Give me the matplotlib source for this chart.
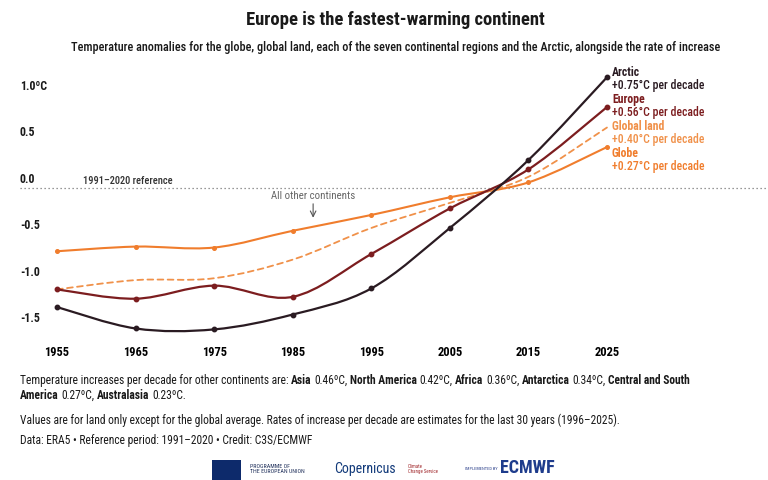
import numpy as np
import matplotlib
matplotlib.use("Agg")
import matplotlib.pyplot as plt
from matplotlib.path import Path
from matplotlib.patches import PathPatch, Rectangle

# data (anomaly vs 1991-2020, degC, decadal points)
years = [1955, 1965, 1975, 1985, 1995, 2005, 2015, 2025]
arctic = [-1.28, -1.51, -1.52, -1.36, -1.08, -0.43, 0.30, 1.19]
europe = [-1.09, -1.19, -1.05, -1.17, -0.71, -0.22, 0.20, 0.87]
global_land = [-1.09, -0.99, -0.97, -0.77, -0.43, -0.16, 0.12, 0.65]
globe = [-0.68, -0.63, -0.64, -0.46, -0.29, -0.10, 0.06, 0.44]

series_names = ["Arctic", "Europe", "Global land", "Globe"]
series_rates = ["+0.75°C per decade", "+0.56°C per decade",
                "+0.40°C per decade", "+0.27°C per decade"]
y_ticks = [1.0, 0.5, 0.0, -0.5, -1.0, -1.5]
y_tick_labels = ["1.0ºC", "0.5", "0.0", "-0.5", "-1.0", "-1.5"]

other_continents = [("Asia", "0.46ºC"), ("North America", "0.42ºC"),
                    ("Africa", "0.36ºC"), ("Antarctica", "0.34ºC"),
                    ("Central and South", None), ("America", "0.27ºC"),
                    ("Australasia", "0.23ºC.")]

C_ARCTIC = "#2a1b22"
C_EUROPE = "#7c1d1f"
C_LAND = "#f0914a"
C_GLOBE = "#f07d2d"
C_TEXT = "#1a1a1a"

plt.rcParams['font.family'] = ['Roboto Condensed', 'Roboto', 'DejaVu Sans']
plt.rcParams['text.color'] = C_TEXT


def smooth_path(xs, ys):
    """Catmull-Rom through the points, drawn as cubic bezier segments"""
    pts = np.column_stack([np.asarray(xs, float), np.asarray(ys, float)])
    verts = [pts[0]]
    codes = [Path.MOVETO]
    n = len(pts)
    for i in range(n - 1):
        p0 = pts[max(i - 1, 0)]
        p1 = pts[i]
        p2 = pts[i + 1]
        p3 = pts[min(i + 2, n - 1)]
        verts += [p1 + (p2 - p0) / 6.0, p2 - (p3 - p1) / 6.0, p2]
        codes += [Path.CURVE4] * 3
    return Path(verts, codes)


fig = plt.figure(figsize=(7.68, 4.8), dpi=100)
fig.patch.set_facecolor("white")
ax = fig.add_axes([20 / 768, 1 - 340 / 480, 748 / 768, 280 / 480])
ax.set_xlim(1950.29, 2045.5)
ax.set_ylim(-1.634, 1.376)
for s in ax.spines.values():
    s.set_visible(False)
ax.set_yticks([])
ax.set_xticks(years)
ax.set_xticklabels([str(y) for y in years], fontsize=9, fontweight="bold")
ax.tick_params(axis="x", length=0, pad=4)

# reference line
ax.axhline(0, color="#777777", lw=0.9, ls=(0, (1, 2.2)), zorder=1)
ax.text(1958.3, 0.02, "1991–2020 reference", fontsize=7.5, fontweight="medium",
        color="#333333", va="bottom", ha="left")

for v, lab in zip(y_ticks, y_tick_labels):
    ax.annotate(lab, xy=(0, v), xycoords=("axes fraction", "data"),
                xytext=(0, 1.5), textcoords="offset points",
                fontsize=8.6, fontweight="bold", va="bottom", ha="left")

# series
styles = [
    (arctic, C_ARCTIC, "-", 1.6, 3.2),
    (europe, C_EUROPE, "-", 1.6, 3.2),
    (global_land, C_LAND, (0, (3.2, 2.4)), 1.3, 0),
    (globe, C_GLOBE, "-", 1.5, 2.6),
]
for vals, col, ls, lw, ms in styles[::-1]:
    ax.add_patch(PathPatch(smooth_path(years, vals), facecolor="none",
                           edgecolor=col, lw=lw, ls=ls, capstyle="round", zorder=3))
    if ms:
        ax.plot(years, vals, ls="none", marker="o", ms=ms, color=col, zorder=4)

# right-hand labels
label_cols = [C_ARCTIC, C_EUROPE, C_LAND, C_GLOBE]
top_px = 73
for i, (name, rate, col) in enumerate(zip(series_names, series_rates, label_cols)):
    y_name = 1 - (top_px + i * 26.8) / 480
    y_rate = 1 - (top_px + 13 + i * 26.8) / 480
    fig.text(612 / 768, y_name, name, fontsize=8.5, fontweight="bold",
             color=col, va="center", ha="left")
    fig.text(612 / 768, y_rate, rate, fontsize=8.5, fontweight="medium",
             color=col, va="center", ha="left")

# annotation for other continents
ax.annotate("", xy=(1987.6, -0.32), xytext=(1987.6, -0.17),
            arrowprops=dict(arrowstyle="->", color="#555555", lw=0.8,
                            shrinkA=0, shrinkB=0))
ax.text(1987.6, -0.09, "All other continents", fontsize=7.8, color="#666666",
        ha="center", va="center")

# titles
fig.text(395 / 768, 1 - 20 / 480, "Europe is the fastest-warming continent",
         fontsize=13.4, fontweight="bold", ha="center", va="center")
fig.text(395.5 / 768, 1 - 47 / 480,
         "Temperature anomalies for the globe, global land, each of the seven "
         "continental regions and the Arctic, alongside the rate of increase",
         fontsize=8.8, fontweight="medium", ha="center", va="center")


# footnote with mixed bold / regular runs
def chain(pieces, x_px, y_px, size=8.3):
    prev = None
    for txt, bold in pieces:
        w = "bold" if bold else "normal"
        if prev is None:
            prev = fig.text(x_px / 768, 1 - y_px / 480, txt, fontsize=size,
                            fontweight=w, va="baseline", ha="left")
        else:
            gap = 0 if txt[0] in ",." else 1.9
            prev = ax.annotate(txt, xy=(1, 0), xycoords=prev,
                               xytext=(gap, 0), textcoords="offset points",
                               fontsize=size, fontweight=w, va="bottom",
                               ha="left", annotation_clip=False)


line1 = [("Temperature increases per decade for other continents are:", False)]
line2 = []
target = line1
for name, val in other_continents:
    if name == "America":
        target = line2
    target.append((name, True))
    if val is not None:
        target.append((val + ("" if val.endswith(".") else ","), False))
chain(line1, 20, 384)
chain(line2, 20, 399)

fig.text(20 / 768, 1 - 424 / 480,
         "Values are for land only except for the global average. Rates of increase "
         "per decade are estimates for the last 30 years (1996–2025).",
         fontsize=8.3, va="baseline", ha="left")
fig.text(20 / 768, 1 - 444 / 480,
         "Data: ERA5 • Reference period: 1991–2020 • Credit: C3S/ECMWF",
         fontsize=8.3, va="baseline", ha="left")

# logo strip
fig.patches.append(Rectangle((212 / 768, 0), 29 / 768, 20 / 480,
                             transform=fig.transFigure, facecolor="#0d2a6b",
                             edgecolor="none"))
fig.text(250 / 768, 1 - 469 / 480, "PROGRAMME OF\nTHE EUROPEAN UNION",
         fontsize=4.2, color="#1f2f5a", va="center", ha="left", linespacing=1.1)
fig.text(334 / 768, 1 - 469 / 480, "Copernicus", fontsize=10, color="#123a7a",
         va="center", ha="left")
fig.text(408 / 768, 1 - 469 / 480, "Climate\nChange Service", fontsize=3.5,
         color="#a0262a", va="center", ha="left")
fig.text(465 / 768, 1 - 469 / 480, "IMPLEMENTED BY", fontsize=3.2,
         color="#2a3f8a", va="center", ha="left")
fig.text(500 / 768, 1 - 468 / 480, "ECMWF", fontsize=13, fontweight="bold",
         color="#1e3c8c", va="center", ha="left")

fig.savefig("out.png", dpi=100, facecolor="white")
